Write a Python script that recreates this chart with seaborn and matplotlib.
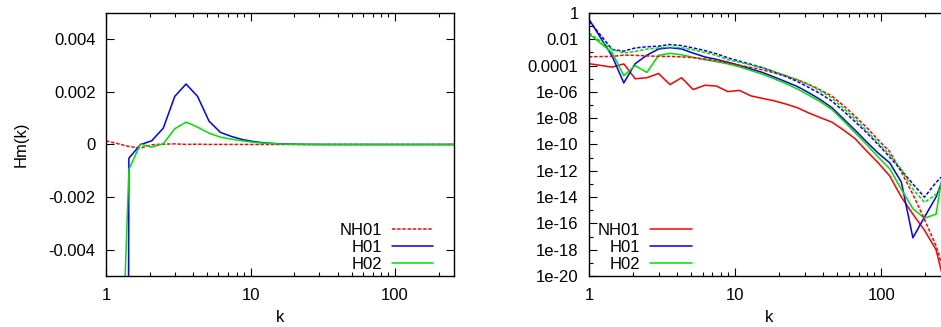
import numpy as np
import pandas as pd
import matplotlib
matplotlib.use("Agg")
import matplotlib.pyplot as plt
from matplotlib.ticker import NullFormatter
import seaborn as sns

# wavenumber bins
k = [1, 1.44, 1.73, 2.07, 2.49, 2.99, 3.58, 4.30, 5.16, 6.19, 7.43, 8.92,
     10.7, 12.8, 15.4, 18.5, 22.2, 26.6, 31.9, 38.3, 46.0, 55.2, 66.2, 79.5,
     95.4, 114.5, 137.4, 164.9, 197.9, 237.4, 284.9]

# magnetic helicity spectra Hm(k), signed
hm_nh01 = [1.4e-4, -7.6e-5, -1.35e-4, -1.0e-5, 1.2e-5, 2.5e-5, 3.6e-6, 1.2e-5,
           1.5e-6, 3.2e-6, 2.8e-6, 1.05e-6, 1.3e-6, 5e-7, 3.2e-7, 2.1e-7, 1.2e-7,
           6.3e-8, 2.5e-8, 1.1e-8, 5e-9, 1.26e-9, 2.8e-10, 3.2e-11, 4e-12, 4e-13,
           1e-14, 5e-16, 3e-17, 1e-18, 3e-22]
hm_h01 = [-0.33, -5.2e-4, -4.8e-6, 1.4e-4, 6.2e-4, 1.83e-3, 2.3e-3, 1.83e-3,
          8.9e-4, 4.6e-4, 3.0e-4, 1.8e-4, 1.05e-4, 5.6e-5, 3e-5, 1.35e-5,
          6e-6, 2.6e-6, 8.7e-7, 2.6e-7, 6.3e-8, 9e-9, 1.26e-9, 1.6e-10, 2.2e-11,
          4e-12, 1.4e-13, 8e-18, 3e-16, 1e-14, 2e-12]
hm_h02 = [-0.026, -9.5e-4, 1.7e-5, -1.0e-4, 3e-5, 6e-4, 8.5e-4, 6.6e-4,
          4.3e-4, 2.8e-4, 2.0e-4, 1.35e-4, 8e-5, 4.3e-5, 2.2e-5, 1e-5, 4.3e-6,
          1.7e-6, 5.6e-7, 1.8e-7, 4.5e-8, 6.3e-9, 8e-10, 1e-10, 1.1e-11, 1.4e-12,
          4e-14, 1.3e-15, 2.5e-16, 5e-16, 1e-10]

# dashed companion spectra (right panel)
em_nh01 = [4.7e-4, 5e-4, 6.3e-4, 6e-4, 5.5e-4, 5e-4, 5e-4, 4.6e-4, 4e-4,
           3.2e-4, 2.5e-4, 1.6e-4, 1.05e-4, 7.2e-5, 4.8e-5, 2.8e-5, 1.6e-5,
           8.5e-6, 3.8e-6, 1.4e-6, 4.8e-7, 9e-8, 1.4e-8, 2e-9, 2.2e-10, 2.8e-11,
           8e-13, 1.6e-14, 2e-16, 2e-18, 3e-21]
em_h01 = [0.25, 1.7e-3, 1.26e-3, 2.2e-3, 2.7e-3, 3.0e-3, 4.0e-3, 3.3e-3,
          2.2e-3, 1.4e-3, 8e-4, 3.9e-4, 2.2e-4, 1.26e-4, 7e-5, 3.4e-5, 1.5e-5,
          6.3e-6, 2.2e-6, 7.4e-7, 2e-7, 3.5e-8, 5.6e-9, 8e-10, 1e-10, 1.1e-11,
          1.1e-12, 1e-13, 1e-14, 1.3e-13, 1e-12]
em_h02 = [0.03, 1.7e-3, 9e-4, 1.2e-3, 1.8e-3, 2.2e-3, 2.5e-3, 2.3e-3, 1.6e-3,
          1.0e-3, 6e-4, 2.8e-4, 1.8e-4, 1.1e-4, 6.9e-5, 3.5e-5, 1.8e-5, 8.5e-6,
          3.5e-6, 1.2e-6, 3.5e-7, 5.6e-8, 9e-9, 1.1e-9, 1.26e-10, 1.6e-11,
          1.26e-12, 4e-14, 4e-15, 1.6e-14, 3e-13]

labels = ["NH01", "H01", "H02"]
colors = ["#ff0000", "#0000ff", "#00e000"]

left_yticks = [-0.004, -0.002, 0, 0.002, 0.004]
left_ylabels = ["-0.004", "-0.002", "0", "0.002", "0.004"]
right_yticks = [1, 1e-2, 1e-4, 1e-6, 1e-8, 1e-10, 1e-12, 1e-14, 1e-16, 1e-18, 1e-20]
right_ylabels = ["1", "0.01", "0.0001", "1e-06", "1e-08", "1e-10", "1e-12",
                 "1e-14", "1e-16", "1e-18", "1e-20"]

sns.set_style("ticks")
plt.rcParams['font.family'] = ['Liberation Sans', 'DejaVu Sans']
plt.rcParams['font.size'] = 12
for key in ("text.color", "axes.labelcolor", "xtick.color", "ytick.color"):
    plt.rcParams[key] = "black"

W, H = 941, 327
fig = plt.figure(figsize=(W / 100, H / 100), dpi=100)
ax1 = fig.add_axes([106 / W, (H - 276) / H, (454 - 106) / W, (276 - 13) / H])
ax2 = fig.add_axes([589 / W, (H - 276) / H, (950 - 589) / W, (276 - 13) / H])

df = pd.DataFrame({"k": k, "NH01": hm_nh01, "H01": hm_h01, "H02": hm_h02,
                   "eNH01": em_nh01, "eH01": em_h01, "eH02": em_h02})

lw = 1.1
dash = (0, (2.2, 1.2))

# left panel: signed Hm(k)
sns.lineplot(data=df, x="k", y="NH01", ax=ax1, color=colors[0], lw=lw,
             linestyle=dash, label="NH01")
sns.lineplot(data=df, x="k", y="H01", ax=ax1, color=colors[1], lw=lw, label="H01")
sns.lineplot(data=df, x="k", y="H02", ax=ax1, color=colors[2], lw=lw, label="H02")

# right panel: |Hm(k)| solid, companion spectra dashed
for name, c in zip(labels, colors):
    sns.lineplot(x=df["k"], y=df[name].abs(), ax=ax2, color=c, lw=lw, label=name)
for name, c in zip(labels, colors):
    sns.lineplot(x=df["k"], y=df["e" + name], ax=ax2, color=c, lw=lw,
                 linestyle=dash, label="_nolegend_")

ax1.set_xscale("log")
ax1.set_xlim(1, 256)
ax1.set_ylim(-0.005, 0.005)
ax1.set_yticks(left_yticks)
ax1.set_yticklabels(left_ylabels)
ax1.set_ylabel("Hm(k)", labelpad=14)
ax1.set_xlabel("k", labelpad=5)

ax2.set_xscale("log")
ax2.set_yscale("log")
ax2.set_xlim(1, 296)
ax2.set_ylim(1e-20, 1)
ax2.set_yticks(right_yticks)
ax2.set_yticklabels(right_ylabels)
ax2.set_yticks([10.0 ** -e for e in range(1, 20, 2)], minor=True)
ax2.set_ylabel("")
ax2.set_xlabel("k", labelpad=5)

for ax in (ax1, ax2):
    ax.set_xticks([1, 10, 100])
    ax.set_xticklabels(["1", "10", "100"])
    ax.xaxis.set_minor_formatter(NullFormatter())
    ax.yaxis.set_minor_formatter(NullFormatter())
    ax.tick_params(which="both", direction="in", top=True, right=True,
                   labelsize=12, color="black", width=0.8)
    ax.tick_params(which="major", length=6)
    ax.tick_params(axis="y", which="major", pad=7.5)
    ax.tick_params(axis="x", which="major", pad=9)
    ax.tick_params(which="minor", length=3)
    for s in ax.spines.values():
        s.set_linewidth(1.0)
        s.set_color("black")

ax1.legend(loc="lower right", bbox_to_anchor=(0.965, -0.015), frameon=False,
           markerfirst=False, handlelength=2.5, handletextpad=0.6,
           labelspacing=0.1, borderpad=0.0, fontsize=12)
ax2.legend(loc="lower left", bbox_to_anchor=(0.0, -0.015), frameon=False,
           markerfirst=False, handlelength=2.5, handletextpad=0.6,
           labelspacing=0.1, borderpad=0.0, fontsize=12)

fig.savefig("out.png", dpi=100)
